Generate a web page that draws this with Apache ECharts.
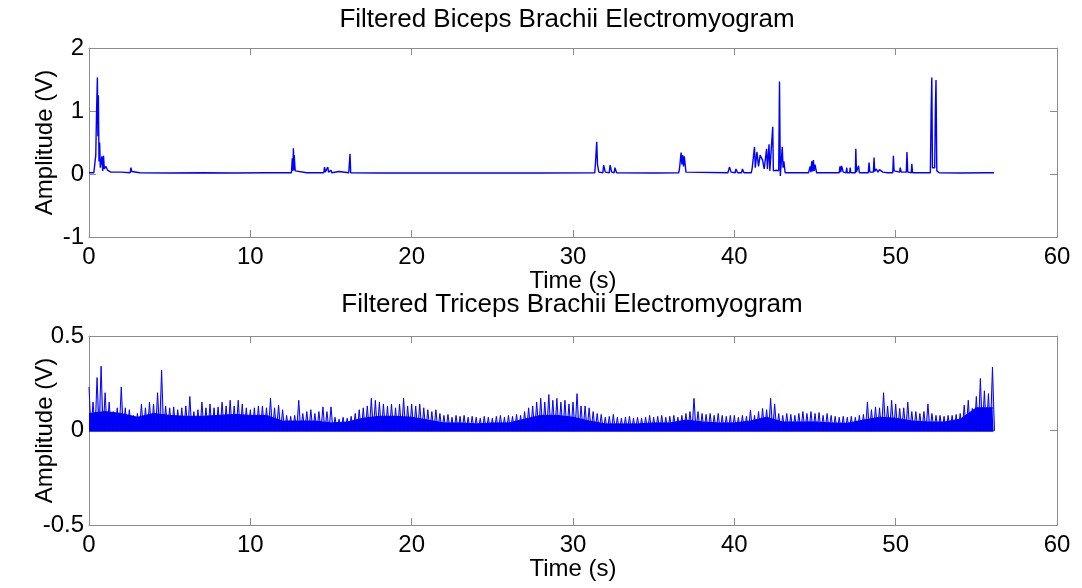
<!DOCTYPE html>
<html>
<head>
<meta charset="utf-8">
<script src="https://cdn.jsdelivr.net/npm/echarts@6/dist/echarts.min.js"></script>
<style>
html,body{margin:0;padding:0;background:#fff;}
#chart{width:1082px;height:588px;}
</style>
</head>
<body>
<div id="chart"></div>
<script>
// ---------- data ----------
const xTicks = [0, 10, 20, 30, 40, 50, 60];
const bicepsTicks = [-1, 0, 1, 2];
const tricepsTicks = [-0.5, 0, 0.5];

// Biceps: [time (s), amplitude (V)] samples
const biceps = [
[0,0.02],[0.3,0.02],[0.35,0.05],[0.42,0.3],[0.47,1.0],[0.52,1.53],[0.55,0.6],[0.58,1.25],[0.62,0.2],[0.66,0.5],[0.7,0.1],
[0.8,0.28],[0.85,0.05],[0.9,0.29],[0.95,0.08],[1.05,0.12],[1.15,0.06],[1.25,0.08],[1.35,0.03],[2.0,0.03],
[2.55,0.02],[2.6,0.1],[2.65,0.04],[2.7,0.02],[3.15,0.02],[3.2,0.05],[3.25,0.02],[5,0.015],[7,0.02],[9,0.015],[11,0.02],
[12.55,0.02],[12.6,0.25],[12.64,0.05],[12.67,0.41],[12.7,0.06],[12.72,0.3],[12.78,0.05],
[13.5,0.02],[13.55,0.05],[13.6,0.02],[13.95,0.02],[14.0,0.04],[14.05,0.02],
[14.55,0.02],[14.6,0.11],[14.65,0.03],[14.75,0.03],[14.8,0.11],[14.85,0.03],[15.0,0.06],[15.05,0.02],[15.5,0.04],
[16.1,0.02],[16.18,0.32],[16.22,0.02],[18,0.015],[21.75,0.015],[21.8,0.03],[21.85,0.015],
[24.35,0.015],[24.4,0.03],[24.45,0.015],[25.75,0.015],[25.8,0.03],[25.85,0.015],[28,0.015],
[31.35,0.02],[31.4,0.2],[31.47,0.51],[31.52,0.15],[31.6,0.03],[31.85,0.02],[31.9,0.14],[32.0,0.03],
[32.25,0.02],[32.3,0.14],[32.4,0.03],[32.55,0.02],[32.6,0.1],[32.7,0.02],[35,0.015],
[36.55,0.02],[36.6,0.08],[36.7,0.34],[36.75,0.15],[36.8,0.3],[36.85,0.12],[36.9,0.28],[37.0,0.03],
[39.6,0.02],[39.7,0.11],[39.8,0.03],[40.05,0.02],[40.1,0.08],[40.2,0.02],[40.45,0.02],[40.5,0.08],[40.6,0.02],
[41.05,0.02],[41.1,0.08],[41.25,0.43],[41.3,0.1],[41.4,0.35],[41.5,0.12],[41.6,0.3],[41.75,0.22],[41.85,0.08],
[42.0,0.4],[42.05,0.08],[42.15,0.47],[42.2,0.05],[42.38,0.75],[42.42,0.05],[42.6,0.06],[42.75,0.05],[42.8,1.47],
[42.85,-0.03],[42.97,0.43],[43.02,0.1],[43.07,0.2],[43.15,0.02],
[44.6,0.02],[44.7,0.12],[44.75,0.03],[44.8,0.2],[44.85,0.04],[44.9,0.22],[44.95,0.05],[45.0,0.15],[45.1,0.02],
[46.5,0.02],[46.55,0.12],[46.6,0.03],[46.65,0.13],[46.75,0.03],[46.93,0.02],[46.97,0.1],[47.0,0.02],
[47.15,0.02],[47.18,0.1],[47.22,0.02],[47.5,0.02],[47.53,0.4],[47.57,0.03],[47.67,0.03],[47.7,0.13],[47.75,0.02],
[48.3,0.02],[48.35,0.18],[48.4,0.03],[48.62,0.03],[48.66,0.26],[48.7,0.04],[48.8,0.08],[48.9,0.03],[49.0,0.07],
[49.2,0.03],[49.3,0.06],[49.5,0.02],[49.6,0.04],[49.82,0.02],[49.86,0.29],[49.9,0.05],
[50.25,0.03],[50.28,0.1],[50.35,0.03],[50.66,0.03],[50.7,0.35],[50.75,0.03],[50.97,0.02],[51.0,0.16],[51.05,0.02],
[52.15,0.02],[52.2,1.0],[52.24,1.53],[52.28,0.1],[52.42,0.1],[52.46,1.0],[52.5,1.49],[52.55,0.05],[52.7,0.02],
[54,0.015],[55.6,0.02],[55.65,0.03],[55.7,0.02],[56.1,0.02]
];

// Triceps: peak amplitudes every 0.25 s from 0 s, and dense-core level for each 1 s
const tricepsPeakStep = 0.25;
const tricepsPeaks = [
0.23,0.15,0.28,0.34, 0.20,0.15,0.10,0.12, 0.23,0.12,0.11,0.08, 0.09,0.14,0.12,0.15,
0.14,0.20,0.32,0.13, 0.12,0.125,0.11,0.12, 0.13,0.18,0.10,0.11, 0.15,0.12,0.14,0.12,
0.125,0.15,0.13,0.16, 0.13,0.16,0.14,0.12, 0.11,0.12,0.13,0.13, 0.12,0.17,0.12,0.135,
0.11,0.08,0.075,0.08, 0.16,0.09,0.10,0.11, 0.09,0.10,0.125,0.10, 0.125,0.07,0.06,0.07,
0.065,0.075,0.09,0.11, 0.12,0.13,0.17,0.16, 0.15,0.14,0.13,0.14, 0.12,0.14,0.17,0.13,
0.14,0.13,0.14,0.12, 0.11,0.10,0.11,0.09, 0.08,0.085,0.07,0.08, 0.075,0.08,0.07,0.075,
0.07,0.065,0.075,0.07, 0.065,0.075,0.08,0.07, 0.08,0.075,0.085,0.08, 0.10,0.12,0.13,0.15,
0.17,0.15,0.19,0.16, 0.17,0.15,0.16,0.14, 0.15,0.195,0.13,0.13, 0.12,0.10,0.09,0.085,
0.07,0.075,0.085,0.07, 0.065,0.07,0.075,0.065, 0.07,0.065,0.07,0.08, 0.07,0.075,0.08,0.07,
0.075,0.08,0.07,0.08, 0.09,0.10,0.17,0.10, 0.09,0.085,0.09,0.08, 0.09,0.08,0.075,0.08,
0.08,0.07,0.08,0.075, 0.108,0.08,0.10,0.117, 0.11,0.17,0.14,0.09, 0.08,0.09,0.085,0.08,
0.09,0.10,0.09,0.10, 0.09,0.095,0.08,0.09, 0.08,0.075,0.07,0.075, 0.07,0.075,0.07,0.08,
0.085,0.15,0.11,0.125, 0.12,0.20,0.13,0.16, 0.14,0.117,0.12,0.15, 0.10,0.10,0.09,0.10,
0.14,0.09,0.08,0.08, 0.075,0.08,0.08,0.085, 0.09,0.134,0.16,0.117, 0.18,0.275,0.21,0.195,
0.336
];
const tricepsCore = [0.09,0.10,0.09,0.07,0.09,0.08,0.075,0.075,0.08,0.085,0.08,0.08,0.05,0.05,0.05,0.04,0.045,0.065,0.075,0.075,0.07,0.055,0.04,0.04,0.035,0.04,0.04,0.06,0.08,0.08,0.07,0.05,0.035,0.035,0.035,0.04,0.04,0.055,0.045,0.04,0.04,0.05,0.07,0.045,0.045,0.045,0.04,0.038,0.055,0.07,0.065,0.05,0.045,0.045,0.06,0.12,0.12];
const tricepsEnd = 56.06;

// ---------- build series data ----------
// each peak is drawn as a thin excursion from the baseline (rectified EMG)
const peakData = [];
tricepsPeaks.forEach((v, i) => {
  const t = i * tricepsPeakStep;
  peakData.push([t, v]);
  peakData.push([t + tricepsPeakStep / 2, 0]);
});
peakData.push([tricepsEnd, 0]);
const coreData = tricepsCore.map((v, i) => [i, v]);
coreData.push([tricepsEnd, tricepsCore[tricepsCore.length - 1]]);

const FONT = 'Liberation Sans, Arial, sans-serif';
const frame = '#8c8c8c';
const labelStyle = {color: '#000', fontSize: 24, fontFamily: FONT};
const lineCfg = {show: true, onZero: false, lineStyle: {color: frame, width: 1}};
const tickCfg = {show: true, inside: true, length: 7, lineStyle: {color: frame}};

function xAxes(grid) {
  return [{
    type: 'value', gridIndex: grid, min: xTicks[0], max: xTicks[xTicks.length - 1], interval: 10, position: 'bottom',
    axisLine: lineCfg, axisTick: tickCfg,
    axisLabel: Object.assign({margin: 8}, labelStyle),
    splitLine: {show: false},
    name: 'Time (s)', nameLocation: 'middle', nameGap: 32, nameMoveOverlap: false,
    nameTextStyle: Object.assign({verticalAlign: 'top'}, labelStyle)
  }, {
    type: 'value', gridIndex: grid, min: xTicks[0], max: xTicks[xTicks.length - 1], interval: 10, position: 'top',
    axisLine: lineCfg, axisTick: tickCfg,
    axisLabel: {show: false}, splitLine: {show: false}
  }];
}
function yAxes(grid, min, max, interval) {
  return [{
    type: 'value', gridIndex: grid, min: min, max: max, interval: interval, position: 'left',
    axisLine: lineCfg, axisTick: tickCfg,
    axisLabel: Object.assign({margin: 5}, labelStyle),
    splitLine: {show: false},
    name: 'Amplitude (V)', nameLocation: 'middle', nameGap: 32, nameMoveOverlap: false,
    nameTextStyle: labelStyle
  }, {
    type: 'value', gridIndex: grid, min: min, max: max, interval: interval, position: 'right',
    axisLine: lineCfg, axisTick: tickCfg,
    axisLabel: {show: false}, splitLine: {show: false}
  }];
}

const chart = echarts.init(document.getElementById('chart'), null, {renderer: 'canvas'});
chart.setOption({
  animation: false,
  backgroundColor: '#fff',
  title: [
    {text: 'Filtered Biceps Brachii Electromyogram', left: 562, top: 2, textAlign: 'center',
     textStyle: {color: '#000', fontSize: 26, fontWeight: 'normal', fontFamily: FONT}},
    {text: 'Filtered Triceps Brachii Electromyogram', left: 567, top: 287, textAlign: 'center',
     textStyle: {color: '#000', fontSize: 26, fontWeight: 'normal', fontFamily: FONT}}
  ],
  grid: [
    {left: 89, right: 25, top: 48, height: 189},
    {left: 89, right: 25, top: 336, height: 189}
  ],
  xAxis: xAxes(0).concat(xAxes(1)),
  yAxis: yAxes(0, bicepsTicks[0], bicepsTicks[bicepsTicks.length - 1], 1)
    .concat(yAxes(1, tricepsTicks[0], tricepsTicks[tricepsTicks.length - 1], 0.5)),
  series: [
    {type: 'line', xAxisIndex: 0, yAxisIndex: 0, data: biceps, showSymbol: false,
     lineStyle: {color: '#0000ff', width: 1.4}, sampling: 'none'},
    {type: 'line', xAxisIndex: 2, yAxisIndex: 2, data: peakData, showSymbol: false,
     lineStyle: {color: '#0000ff', width: 1}, areaStyle: {color: '#2222ff', opacity: 0.3}},
    {type: 'line', xAxisIndex: 2, yAxisIndex: 2, data: coreData, showSymbol: false,
     lineStyle: {color: '#0000f0', width: 1}, areaStyle: {color: '#0000f0', opacity: 1, origin: -0.006}}
  ]
});
</script>
</body>
</html>
